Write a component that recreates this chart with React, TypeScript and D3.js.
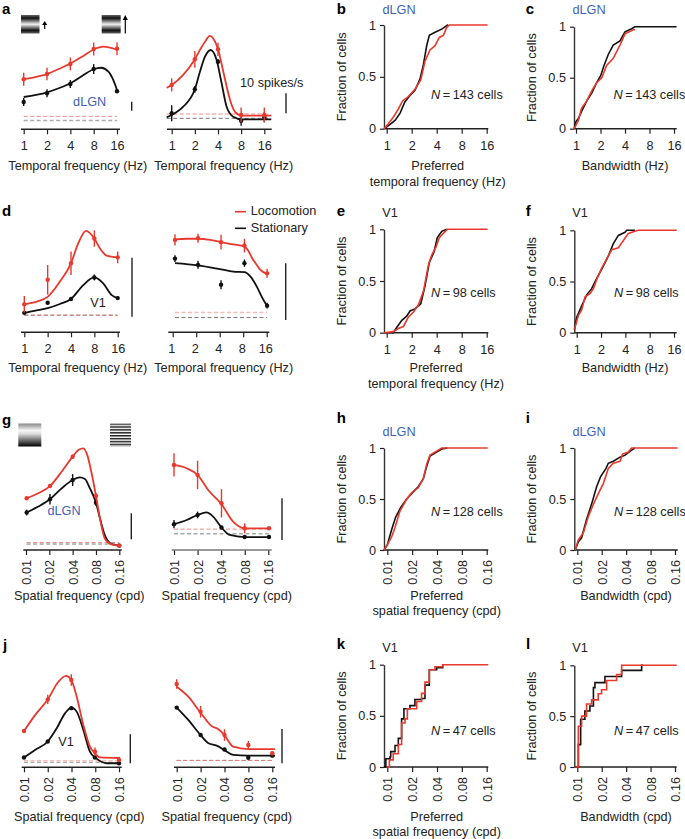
import React, { useEffect, useRef } from "react";
import * as d3 from "d3";

const RED = "#e8392e";
const BLACK = "#111111";
const BLUE = "#3f5fb5";
const INK = "#222222";
const FONT = "'Liberation Sans', Arial, sans-serif";
const TEXT_SIZE = 12.7;

const freqTicks = [1, 2, 4, 8, 16];
const freqLabels = ["1", "2", "4", "8", "16"];
const spatialTicks = [0.01, 0.02, 0.04, 0.08, 0.16];
const spatialLabels = ["0.01", "0.02", "0.04", "0.08", "0.16"];
const cdfTicks = [0, 0.5, 1];
const cdfLabels = ["0", "0.5", "1"];

// tuning curves: [frequency, spikes/s], points: [frequency, spikes/s, s.e.m.]
const aLeftRedCurve = [[1, 55.9], [1.41, 58.1], [2, 61.4], [2.83, 67], [4, 73.1], [5.66, 80.7], [8, 88.7], [10.7, 91.8], [16, 88.4]];
const aLeftRedPoints = [[1, 55.6, 7.2], [2, 61.4, 7], [4, 72.6, 7.2], [8, 89.2, 7.2], [16, 89.6, 7.2]];
const aLeftBlackCurve = [[1, 35.9], [2, 41.1], [2.83, 45.6], [4, 51.1], [5.66, 59.2], [8, 66.7], [10, 68.4], [12.4, 64], [14.3, 54.8], [16, 43.7]];
const aLeftBlackPoints = [[1, 30.3, 4.4], [2, 40, 4.4], [4, 50.3, 4.4], [8, 67, 5.5], [16, 42.2, 1.5]];

const aRightRedCurve = [[0.86, 20.8], [1, 22.2], [1.41, 27.2], [2, 35], [2.33, 39.7], [2.71, 43.8], [3.14, 46.7], [3.66, 43.8], [4.03, 39.7], [4.69, 28.8], [5.74, 14.65], [6.63, 8.8], [8.1, 6.8], [19.7, 6.8]];
const aRightRedPoints = [[1, 22.2, 3.3], [2, 35, 4.2], [4, 40, 3.3], [8, 7.2, 3.7], [16, 7.2, 3.7]];
const aRightBlackCurve = [[0.86, 6], [1, 7.15], [1.41, 11.3], [2, 20], [2.33, 28.8], [2.71, 36.3], [3.21, 39.65], [3.84, 34.65], [4.46, 23], [5.18, 11.3], [6.32, 6.3], [8.1, 5], [19.7, 5]];
const aRightBlackPoints = [[1, 8, 4], [2, 20, 1.7], [4, 33.8, 1.3], [8, 4.3, 2.5], [16, 6, 2.5]];

const dLeftRedCurve = [[1, 4.75], [1.44, 5.2], [2, 6], [2.88, 8.6], [4, 11.7], [4.97, 15.1], [6.24, 17.2], [8, 15.9], [9.47, 14.2], [11.5, 13], [16, 12.7]];
const dLeftRedPoints = [[1, 4.75, 1.4], [2, 8.9, 2.5], [4, 11.7, 2], [8, 15.9, 1.4], [16, 12.7, 1]];
const dLeftBlackCurve = [[1, 3.3], [1.44, 3.7], [2, 4.1], [2.88, 4.8], [4, 5.65], [5.76, 8], [8, 9.3], [10.4, 8.3], [13.4, 6.3], [16, 5.8]];
const dLeftBlackPoints = [[1, 3.3, 0.1], [2, 5, 0.2], [4, 5.65, 0.2], [8, 9.3, 0.5], [16, 5.8, 0.3]];

const dRightRedCurve = [[1.07, 16.4], [1.51, 16.5], [2.11, 16.5], [3, 16.3], [4.16, 15.9], [5.98, 15.5], [8.3, 15.1], [9.3, 14.4], [10.3, 13.2], [11.9, 11.9], [13.1, 11.1], [16.2, 10.3]];
const dRightRedPoints = [[1.07, 16.3, 1], [2.11, 16.6, 0.8], [4.16, 15.9, 1.3], [8.3, 15.3, 1.2], [16.2, 10.4, 0.8]];
const dRightBlackCurve = [[1.07, 12.2], [2.11, 11.8], [4.16, 11.1], [5.98, 10.7], [8.3, 10.6], [9.8, 9.9], [11.9, 8.1], [13.8, 6.3], [16.2, 4.6]];
const dRightBlackPoints = [[1.07, 13, 0.6], [2.11, 11.9, 0.7], [4.16, 8.4, 0.8], [8.3, 12.2, 0.65], [16.2, 4.7, 0.5]];

const gLeftRedCurve = [[0.0102, 19.9], [0.0144, 21.8], [0.0204, 24.6], [0.0288, 30.1], [0.04, 35.9], [0.0473, 38.5], [0.0548, 39.1], [0.0618, 36.5], [0.0703, 29.5], [0.08, 20.8], [0.09, 12.2], [0.1037, 4.5], [0.1266, 2.2], [0.16, 1.7]];
const gLeftRedPoints = [[0.0102, 19.9, 0.4], [0.0204, 24.6, 0.8], [0.04, 35.9, 0.8], [0.08, 20.8, 1], [0.16, 1.7, 0.3]];
const gLeftBlackCurve = [[0.0102, 14.4], [0.0144, 16.7], [0.0204, 19.5], [0.0288, 23.7], [0.04, 26.9], [0.0497, 27.9], [0.0576, 27.3], [0.0669, 23.7], [0.08, 18.2], [0.09, 12.2], [0.1037, 5.8], [0.1266, 2.3], [0.16, 1.7]];
const gLeftBlackPoints = [[0.0102, 14.4, 1.1], [0.0204, 19.5, 2], [0.04, 26.9, 2.3], [0.08, 18.2, 1.3], [0.16, 1.7, 0.3]];

const gRightRedCurve = [[0.01, 20.4], [0.0145, 19.6], [0.02, 18], [0.0273, 14.4], [0.0404, 11], [0.0569, 6.8], [0.0798, 5.2], [0.1123, 5.2], [0.1634, 5.2]];
const gRightRedPoints = [[0.01, 20.4, 2.8], [0.02, 18, 3.4], [0.0404, 11.2, 3.4], [0.0798, 5.2, 1.2], [0.1634, 5.2, 0.4]];
const gRightBlackCurve = [[0.01, 6.2], [0.0145, 7.2], [0.02, 8.4], [0.026, 9], [0.0316, 8], [0.0404, 5.4], [0.0515, 3.6], [0.0798, 3.1], [0.1634, 3.1]];
const gRightBlackPoints = [[0.01, 6.2, 1], [0.02, 8.4, 0.8], [0.0404, 5.4, 0.4], [0.0798, 3.1, 0.2], [0.1634, 3.1, 0.2]];

const jLeftRedCurve = [[0.01, 12.5], [0.0138, 18], [0.02, 23.4], [0.0273, 29.5], [0.0341, 31.5], [0.0398, 30.1], [0.0465, 24.4], [0.0565, 14.6], [0.0685, 7.1], [0.0794, 4.8], [0.0917, 3.4], [0.1648, 3.2]];
const jLeftRedPoints = [[0.01, 12.5, 0.7], [0.02, 23.4, 1.6], [0.0398, 30.1, 2], [0.0794, 5.4, 1.4], [0.16, 2.5, 0.7]];
const jLeftBlackCurve = [[0.01, 3.4], [0.0138, 6], [0.02, 8.9], [0.0259, 13.4], [0.0331, 18.6], [0.0398, 20.6], [0.0465, 19.2], [0.0565, 12.9], [0.0685, 5.4], [0.0794, 3.4], [0.0917, 2.2], [0.1113, 1.4], [0.1648, 1.4]];
const jLeftBlackPoints = [[0.01, 3.4, 0.3], [0.02, 8.9, 0.3], [0.0398, 20.4, 0.3], [0.0794, 3.4, 0.3], [0.16, 1.4, 0.3]];

const jRightRedCurve = [[0.01, 23.5], [0.014, 20.6], [0.02, 15.9], [0.0276, 12], [0.0335, 11.1], [0.04, 9.4], [0.0515, 6], [0.0798, 5.3], [0.1728, 5.3]];
const jRightRedPoints = [[0.01, 24.3, 1.4], [0.02, 16.2, 1.7], [0.04, 9.4, 1.7], [0.0798, 6.5, 1.2], [0.16, 4.1, 0.6]];
const jRightBlackCurve = [[0.01, 17.4], [0.014, 13.8], [0.02, 9.4], [0.0251, 7], [0.0319, 6.3], [0.04, 5], [0.0515, 3.6], [0.0798, 3.4], [0.1728, 3.4]];
const jRightBlackPoints = [[0.01, 17.4, 0.3], [0.02, 9.4, 0.3], [0.04, 5.2, 0.3], [0.0798, 2.8, 0.5], [0.16, 3.4, 0.3]];

// cumulative distributions: [frequency, fraction of cells]
const bBlack = [[0.93, 0], [1.05, 0.03], [1.26, 0.08], [1.45, 0.15], [1.66, 0.26], [1.91, 0.32], [2.19, 0.37], [2.52, 0.48], [2.77, 0.62], [3.03, 0.8], [3.26, 0.9], [3.82, 0.93], [4.6, 0.96], [5.4, 1], [5.5, 1]];
const bRed = [[0.93, 0], [1.05, 0.05], [1.2, 0.11], [1.38, 0.19], [1.56, 0.27], [1.82, 0.31], [2.19, 0.38], [2.57, 0.47], [2.89, 0.65], [3.32, 0.76], [3.82, 0.8], [4.3, 0.88], [4.8, 0.9], [5.3, 0.98], [5.7, 1], [16.4, 1]];
const cBlack = [[0.95, 0], [1, 0.07], [1.07, 0.1], [1.17, 0.17], [1.35, 0.27], [1.56, 0.35], [1.79, 0.45], [2.01, 0.52], [2.21, 0.62], [2.5, 0.73], [2.87, 0.82], [3.47, 0.86], [4, 0.95], [4.83, 0.98], [5.3, 1], [17.2, 1]];
const cRed = [[0.95, 0], [1.07, 0.08], [1.17, 0.2], [1.35, 0.27], [1.56, 0.37], [1.79, 0.45], [2.07, 0.5], [2.38, 0.62], [2.87, 0.69], [3.47, 0.82], [4, 0.93], [5.06, 0.97], [5.3, 0.97]];
const eBlack = [[0.93, 0], [1.2, 0], [1.32, 0.05], [1.52, 0.12], [1.74, 0.16], [1.91, 0.21], [2.19, 0.23], [2.57, 0.28], [2.89, 0.45], [3.26, 0.68], [3.71, 0.78], [4.07, 0.92], [4.6, 0.98], [5.3, 1]];
const eRed = [[0.93, 0], [1.2, 0.01], [1.38, 0.04], [1.59, 0.06], [1.82, 0.15], [2.1, 0.2], [2.41, 0.27], [2.77, 0.4], [3.17, 0.65], [3.48, 0.75], [3.93, 0.83], [4.3, 0.92], [4.8, 0.96], [5.4, 1], [16.4, 1]];
const fBlack = [[0.936, 0.03], [1, 0.15], [1.15, 0.26], [1.33, 0.37], [1.53, 0.43], [1.77, 0.53], [2.04, 0.62], [2.47, 0.75], [2.84, 0.87], [3.28, 0.95], [3.96, 0.98], [4.15, 1], [5.27, 1]];
const fRed = [[0.936, 0.03], [1.05, 0.17], [1.15, 0.22], [1.27, 0.35], [1.46, 0.38], [1.61, 0.43], [1.77, 0.52], [2.04, 0.63], [2.35, 0.72], [2.71, 0.81], [3.28, 0.83], [3.78, 0.9], [4.36, 0.97], [5.27, 0.99], [5.78, 1], [17.3, 1]];
const hBlack = [[0.0091, 0], [0.01, 0.05], [0.0113, 0.2], [0.0126, 0.32], [0.0146, 0.42], [0.0172, 0.5], [0.0206, 0.57], [0.0237, 0.62], [0.0273, 0.7], [0.03, 0.82], [0.0329, 0.92], [0.0396, 0.96], [0.0456, 0.99], [0.0533, 1]];
const hRed = [[0.0091, 0], [0.01, 0.05], [0.0113, 0.13], [0.0124, 0.22], [0.0142, 0.38], [0.0172, 0.5], [0.0197, 0.56], [0.0237, 0.61], [0.0273, 0.7], [0.03, 0.84], [0.0329, 0.93], [0.0396, 0.97], [0.0456, 1], [0.1647, 1]];
const iBlack = [[0.0094, 0], [0.0103, 0.08], [0.0113, 0.12], [0.013, 0.3], [0.015, 0.45], [0.0173, 0.62], [0.0194, 0.72], [0.0226, 0.8], [0.0241, 0.85], [0.0278, 0.87], [0.0336, 0.91], [0.0388, 0.93], [0.0467, 0.98], [0.0514, 1]];
const iRed = [[0.0094, 0], [0.0103, 0.1], [0.0119, 0.17], [0.0137, 0.33], [0.0158, 0.45], [0.0181, 0.55], [0.0209, 0.65], [0.0241, 0.8], [0.0278, 0.85], [0.0336, 0.87], [0.0362, 0.94], [0.0425, 0.96], [0.0467, 1], [0.1726, 1]];
const kBlack = [[0.0091, 0], [0.0096, 0.08], [0.0108, 0.1], [0.011, 0.15], [0.0124, 0.21], [0.0136, 0.28], [0.0149, 0.47], [0.0159, 0.57], [0.0188, 0.6], [0.0216, 0.66], [0.026, 0.67], [0.0286, 0.8], [0.0323, 0.95], [0.0396, 0.97], [0.0469, 1]];
const kRed = [[0.0098, 0], [0.0106, 0.07], [0.0118, 0.13], [0.0136, 0.22], [0.0149, 0.43], [0.0164, 0.47], [0.0175, 0.57], [0.0197, 0.57], [0.0227, 0.64], [0.026, 0.72], [0.0286, 0.83], [0.0323, 0.95], [0.0378, 0.98], [0.0469, 1], [0.1674, 1]];
const lBlack = [[0.0094, 0], [0.0103, 0.22], [0.011, 0.47], [0.0124, 0.55], [0.0143, 0.6], [0.0158, 0.78], [0.0165, 0.83], [0.0213, 0.83], [0.0219, 0.89], [0.0336, 0.89], [0.0352, 0.95], [0.0604, 0.95], [0.0621, 1], [0.065, 1]];
const lRed = [[0.0094, 0], [0.0103, 0.4], [0.0113, 0.5], [0.013, 0.62], [0.015, 0.66], [0.0181, 0.72], [0.0199, 0.76], [0.023, 0.85], [0.0305, 0.91], [0.0352, 1], [0.1677, 1]];

const tuningPanels = [
  { ticks: freqTicks, labels: freqLabels, x0: 23.7, x1: 117, start: 21, end: 120, axisY: 129.3, k: 0.9, red: aLeftRedCurve, redPts: aLeftRedPoints, black: aLeftBlackCurve, blackPts: aLeftBlackPoints, base: [14.4, 9.8], baseX: [1, 16], paleBlack: true, barX: 131.7, barBottom: 110.7, title: "Temporal frequency (Hz)", titleX: 77.8, titleY: 166 },
  { ticks: freqTicks, labels: freqLabels, x0: 171.7, x1: 264.3, start: 167, end: 271.7, axisY: 129.3, k: 2, red: aRightRedCurve, redPts: aRightRedPoints, black: aRightBlackCurve, blackPts: aRightBlackPoints, base: [7.65, 5.5], baseX: [0.86, 19.7], barX: 286, barBottom: 113.3, title: "Temporal frequency (Hz)", titleX: 223.7, titleY: 166 },
  { ticks: freqTicks, labels: freqLabels, x0: 24.3, x1: 117.7, start: 21, end: 120, axisY: 332.3, k: 5.9, red: dLeftRedCurve, redPts: dLeftRedPoints, black: dLeftBlackCurve, blackPts: dLeftBlackPoints, base: [2.9, 2.9], baseX: [1, 16], barX: 132, barBottom: 316.7, title: "Temporal frequency (Hz)", titleX: 77.8, titleY: 368 },
  { ticks: freqTicks, labels: freqLabels, x0: 172.7, x1: 266.7, start: 168.3, end: 269.3, axisY: 332.3, k: 5.67, red: dRightRedCurve, redPts: dRightRedPoints, black: dRightBlackCurve, blackPts: dRightBlackPoints, base: [3.5, 2.6], baseX: [1.07, 16.2], paleRed: true, barX: 285.7, barBottom: 320, labelDx: -1.5, title: "Temporal frequency (Hz)", titleX: 223.7, titleY: 368 },
  { ticks: spatialTicks, labels: spatialLabels, rotated: true, x0: 26, x1: 119.3, start: 23.3, end: 121.7, axisY: 550, k: 2.6, red: gLeftRedCurve, redPts: gLeftRedPoints, black: gLeftBlackCurve, blackPts: gLeftBlackPoints, base: [2.9, 2.3], baseX: [0.0102, 0.16], barX: 131.3, barBottom: 539.3, title: "Spatial frequency (cpd)", titleX: 79.2, titleY: 596 },
  { ticks: spatialTicks, labels: spatialLabels, rotated: true, x0: 174, x1: 268.3, start: 171.7, end: 271.7, axisY: 550, axisColor: "#777", k: 4.17, red: gRightRedCurve, redPts: gRightRedPoints, black: gRightBlackCurve, blackPts: gRightBlackPoints, base: [5, 3.9], baseX: [0.01, 0.1634], paleBlack: true, barX: 282, barBottom: 540, title: "Spatial frequency (cpd)", titleX: 226.7, titleY: 596 },
  { ticks: spatialTicks, labels: spatialLabels, rotated: true, x0: 24, x1: 119, start: 21.7, end: 121.7, axisY: 767.3, k: 2.9, red: jLeftRedCurve, redPts: jLeftRedPoints, black: jLeftBlackCurve, blackPts: jLeftBlackPoints, base: [2.3, 1.7], baseX: [0.01, 0.16], paleBlack: true, paleRed: true, barX: 130.3, barBottom: 763.3, title: "Spatial frequency (cpd)", titleX: 79.2, titleY: 816.7 },
  { ticks: spatialTicks, labels: spatialLabels, rotated: true, x0: 176.7, x1: 272.3, start: 174, end: 275, axisY: 767.3, k: 3.43, red: jRightRedCurve, redPts: jRightRedPoints, black: jRightBlackCurve, blackPts: jRightBlackPoints, base: [2, 2], baseX: [0.01, 0.1648], barX: 282, barBottom: 763.3, title: "Spatial frequency (cpd)", titleX: 226.7, titleY: 816.7 },
];

const cdfPanels = [
  { ticks: freqTicks, labels: freqLabels, axisX: 384, x0: 386.7, x1: 486.7, end: 488.3, top: 25, bottom: 128.7, black: bBlack, red: bRed, region: "dLGN", regionX: 399, regionY: 9.7, count: "143", nX: 431, nY: 94.7, title: ["Preferred", "temporal frequency (Hz)"], titleX: 437.7, titleY: 166 },
  { ticks: freqTicks, labels: freqLabels, axisX: 574, x0: 576, x1: 674, end: 676.7, top: 26.7, bottom: 128.7, black: cBlack, red: cRed, region: "dLGN", regionX: 589, regionY: 9.7, count: "143", nX: 613.5, nY: 94.7, title: ["Bandwidth (Hz)"], titleX: 625, titleY: 165.7 },
  { ticks: freqTicks, labels: freqLabels, axisX: 384, x0: 386.7, x1: 486.7, end: 488.3, top: 229.3, bottom: 332.7, black: eBlack, red: eRed, region: "V1", regionX: 390, regionY: 213, count: "98", nX: 431, nY: 292.7, title: ["Preferred", "temporal frequency (Hz)"], titleX: 436, titleY: 368.3 },
  { ticks: freqTicks, labels: freqLabels, axisX: 574.3, x0: 576.7, x1: 674, end: 676.7, top: 230.3, bottom: 332.7, black: fBlack, red: fRed, region: "V1", regionX: 580, regionY: 213, count: "98", nX: 614, nY: 292.7, title: ["Bandwidth (Hz)"], titleX: 625, titleY: 368.3 },
  { ticks: spatialTicks, labels: spatialLabels, rotated: true, axisX: 384, x0: 387.3, x1: 486.7, end: 488.3, top: 448, bottom: 550, black: hBlack, red: hRed, region: "dLGN", regionX: 399, regionY: 431.7, count: "128", nX: 431, nY: 511.7, title: ["Preferred", "spatial frequency (cpd)"], titleX: 436.7, titleY: 595.7 },
  { ticks: spatialTicks, labels: spatialLabels, rotated: true, axisX: 574.3, x0: 577.3, x1: 675, end: 677.7, top: 448, bottom: 550, black: iBlack, red: iRed, region: "dLGN", regionX: 589, regionY: 431.7, count: "128", nX: 614, nY: 511.7, title: ["Bandwidth (cpd)"], titleX: 626, titleY: 595.7 },
  { ticks: spatialTicks, labels: spatialLabels, rotated: true, step: true, axisX: 384, x0: 387.3, x1: 486.7, end: 488.3, top: 664.7, bottom: 767, black: kBlack, red: kRed, region: "V1", regionX: 390, regionY: 648.3, count: "47", nX: 431, nY: 730.7, title: ["Preferred", "spatial frequency (cpd)"], titleX: 436.7, titleY: 816.7 },
  { ticks: spatialTicks, labels: spatialLabels, rotated: true, step: true, axisX: 574.3, x0: 577.3, x1: 675, end: 676.7, top: 665.3, bottom: 767, black: lBlack, red: lRed, region: "V1", regionX: 580, regionY: 648.3, count: "47", nX: 614, nY: 730.7, title: ["Bandwidth (cpd)"], titleX: 626, titleY: 816.7 },
];

const panelLetters = [
  ["a", 2, 14], ["b", 336.7, 14], ["c", 525.7, 14],
  ["d", 2, 215.7], ["e", 336.7, 215.7], ["f", 525.7, 215.7],
  ["g", 2, 425], ["h", 336.7, 423], ["i", 525.7, 423],
  ["j", 3, 650], ["k", 336.7, 649], ["l", 526, 649],
];

const regionNotes = [
  ["dLGN", 89.7, 101.7, BLUE],
  ["V1", 98, 303, INK],
  ["dLGN", 64, 511, BLUE],
  ["V1", 66, 742, INK],
];

function styleAxis(g, color = "#222") {
  g.selectAll("text").attr("fill", INK).style("font-family", FONT).style("font-size", `${TEXT_SIZE}px`);
  g.selectAll("line").attr("stroke", color).attr("stroke-width", 1.2);
}

function BottomAxis({ scale, y, ticks, labels, rotated, start, end, labelDx = 0, color = "#222" }) {
  const ref = useRef(null);
  useEffect(() => {
    const g = d3.select(ref.current);
    const axis = d3.axisBottom(scale).tickValues(ticks).tickSize(5).tickPadding(7)
      .tickFormat((d, i) => labels[i]);
    g.call(axis);
    g.select(".domain").remove();
    styleAxis(g);
    if (rotated) {
      g.selectAll("text")
        .attr("transform", "rotate(-90)")
        .attr("text-anchor", "end")
        .attr("x", -10)
        .attr("y", 0)
        .attr("dy", "0.35em");
    } else {
      g.selectAll("text").attr("dx", labelDx);
    }
  }, []);
  return (
    <g>
      <g ref={ref} transform={`translate(0,${y})`} />
      <line x1={start} x2={end} y1={y} y2={y} stroke={color} strokeWidth={1.4} />
    </g>
  );
}

function LeftAxis({ scale, x }) {
  const ref = useRef(null);
  useEffect(() => {
    const g = d3.select(ref.current);
    const axis = d3.axisLeft(scale).tickValues(cdfTicks).tickSize(4).tickPadding(4).tickSizeOuter(0)
      .tickFormat((d, i) => cdfLabels[i]);
    g.call(axis);
    g.select(".domain").attr("stroke", "#333").attr("stroke-width", 1.4);
    styleAxis(g);
  }, []);
  return <g ref={ref} transform={`translate(${x},0)`} />;
}

function Points({ data, x, y, color }) {
  return (
    <g>
      {data.map((d, i) => (
        <g key={i}>
          <line x1={x(d[0])} x2={x(d[0])} y1={y(d[1] - d[2])} y2={y(d[1] + d[2])} stroke={color} strokeWidth={1.4} />
          <circle cx={x(d[0])} cy={y(d[1])} r={2.2} fill={color} />
        </g>
      ))}
    </g>
  );
}

function TuningPanel({ p }) {
  const x = d3.scaleLog().base(2).domain([p.ticks[0], p.ticks[4]]).range([p.x0, p.x1]);
  const y = d3.scaleLinear().domain([0, 100]).range([p.axisY, p.axisY - 100 * p.k]);
  const line = d3.line().x(d => x(d[0])).y(d => y(d[1])).curve(d3.curveMonotoneX);
  const barLength = y(0) - y(10);
  return (
    <g>
      <line x1={x(p.baseX[0])} x2={x(p.baseX[1])} y1={y(p.base[1])} y2={y(p.base[1])}
        stroke={p.paleBlack ? "#aaa" : "#666"} strokeWidth={p.paleBlack ? 1.3 : 0.9} strokeDasharray="4 2.5" />
      <line x1={x(p.baseX[0])} x2={x(p.baseX[1])} y1={y(p.base[0])} y2={y(p.base[0])}
        stroke={p.paleRed ? "#f6bcb7" : "#ee7d75"} strokeWidth={p.paleRed ? 1.5 : 0.9} strokeDasharray="4 2.5" />
      <path d={line(p.black)} fill="none" stroke={BLACK} strokeWidth={1.8} />
      <Points data={p.blackPts} x={x} y={y} color={BLACK} />
      <path d={line(p.red)} fill="none" stroke={RED} strokeWidth={1.8} />
      <Points data={p.redPts} x={x} y={y} color={RED} />
      <line x1={p.barX} x2={p.barX} y1={p.barBottom - barLength} y2={p.barBottom} stroke="#222" strokeWidth={1.4} />
      <BottomAxis scale={x} y={p.axisY} ticks={p.ticks} labels={p.labels} rotated={p.rotated} start={p.start} end={p.end} labelDx={p.labelDx} color={p.axisColor} />
      <text x={p.titleX} y={p.titleY} textAnchor="middle" dominantBaseline="central" fontSize={TEXT_SIZE} fill={INK}>{p.title}</text>
    </g>
  );
}

function CdfPanel({ p }) {
  const x = d3.scaleLog().base(2).domain([p.ticks[0], p.ticks[4]]).range([p.x0, p.x1]);
  const y = d3.scaleLinear().domain([0, 1]).range([p.bottom, p.top]);
  const line = d3.line().x(d => x(d[0])).y(d => y(d[1])).curve(p.step ? d3.curveStepAfter : d3.curveLinear);
  return (
    <g>
      <LeftAxis scale={y} x={p.axisX} />
      <BottomAxis scale={x} y={p.bottom} ticks={p.ticks} labels={p.labels} rotated={p.rotated} start={p.axisX} end={p.end} />
      <path d={line(p.black)} fill="none" stroke={BLACK} strokeWidth={1.6} />
      <path d={line(p.red)} fill="none" stroke={RED} strokeWidth={1.6} />
      <text x={p.regionX} y={p.regionY} textAnchor="middle" dominantBaseline="central" fontSize={TEXT_SIZE} fill={p.region === "V1" ? INK : BLUE}>{p.region}</text>
      <text x={p.nX} y={p.nY} dominantBaseline="central" fontSize={TEXT_SIZE} fill={INK}>
        <tspan fontStyle="italic">N</tspan>{`\u2009=\u2009${p.count} cells`}
      </text>
      <text transform={`translate(${p.axisX - 42},${(p.top + p.bottom) / 2}) rotate(-90)`} textAnchor="middle" dominantBaseline="central" fontSize={TEXT_SIZE} fill={INK}>Fraction of cells</text>
      {p.title.map((t, i) => (
        <text key={i} x={p.titleX} y={p.titleY + i * 15.7} textAnchor="middle" dominantBaseline="central" fontSize={TEXT_SIZE} fill={INK}>{t}</text>
      ))}
    </g>
  );
}

function Arrow({ x, top, bottom, head }) {
  return (
    <g>
      <line x1={x} x2={x} y1={top + head} y2={bottom} stroke="#000" strokeWidth={1.2} />
      <path d={`M${x - 2.6},${top + head + 1}L${x},${top}L${x + 2.6},${top + head + 1}Z`} fill="#000" />
    </g>
  );
}

export default function App() {
  return (
    <svg width={685} height={839} style={{ position: "absolute", left: 0, top: 0 }} fontFamily={FONT}>
      <defs>
        <linearGradient id="bars" x1="0" y1="0" x2="0" y2="1">
          <stop offset="0" stopColor="#666" />
          <stop offset="0.17" stopColor="#111" />
          <stop offset="0.32" stopColor="#777" />
          <stop offset="0.5" stopColor="#f2f2f2" />
          <stop offset="0.68" stopColor="#777" />
          <stop offset="0.83" stopColor="#111" />
          <stop offset="1" stopColor="#666" />
        </linearGradient>
        <linearGradient id="wide" x1="0" y1="0" x2="0" y2="1">
          <stop offset="0" stopColor="#888" />
          <stop offset="0.3" stopColor="#f5f5f5" />
          <stop offset="0.45" stopColor="#ddd" />
          <stop offset="1" stopColor="#000" />
        </linearGradient>
        <pattern id="fine" patternUnits="userSpaceOnUse" width={4} height={2.9}>
          <rect width={4} height={1.5} fill="#222" />
        </pattern>
      </defs>

      <rect x={21} y={15} width={18.5} height={18.5} fill="url(#bars)" />
      <rect x={101.7} y={15} width={19} height={18.5} fill="url(#bars)" />
      <Arrow x={44.7} top={21} bottom={29} head={3} />
      <Arrow x={125.3} top={15} bottom={33.5} head={4} />
      <rect x={18.3} y={423.5} width={23} height={23} fill="url(#wide)" />
      <rect x={110} y={423.5} width={21} height={23} fill="url(#fine)" />

      {tuningPanels.map((p, i) => <TuningPanel key={i} p={p} />)}
      {cdfPanels.map((p, i) => <CdfPanel key={i} p={p} />)}

      {regionNotes.map(([t, x, y, c], i) => (
        <text key={i} x={x} y={y} textAnchor="middle" dominantBaseline="central" fontSize={TEXT_SIZE} fill={c}>{t}</text>
      ))}
      <text x={240} y={82.7} dominantBaseline="central" fontSize={TEXT_SIZE} fill={INK}>10 spikes/s</text>

      <line x1={235} x2={246} y1={211.7} y2={211.7} stroke={RED} strokeWidth={1.6} />
      <text x={250.7} y={211} dominantBaseline="central" fontSize={TEXT_SIZE} fill={INK}>Locomotion</text>
      <line x1={235} x2={246} y1={228.3} y2={228.3} stroke={BLACK} strokeWidth={1.6} />
      <text x={250.7} y={228} dominantBaseline="central" fontSize={TEXT_SIZE} fill={INK}>Stationary</text>

      {panelLetters.map(([t, x, y], i) => (
        <text key={i} x={x} y={y} fontSize={15} fontWeight="bold" fill="#000">{t}</text>
      ))}
    </svg>
  );
}
